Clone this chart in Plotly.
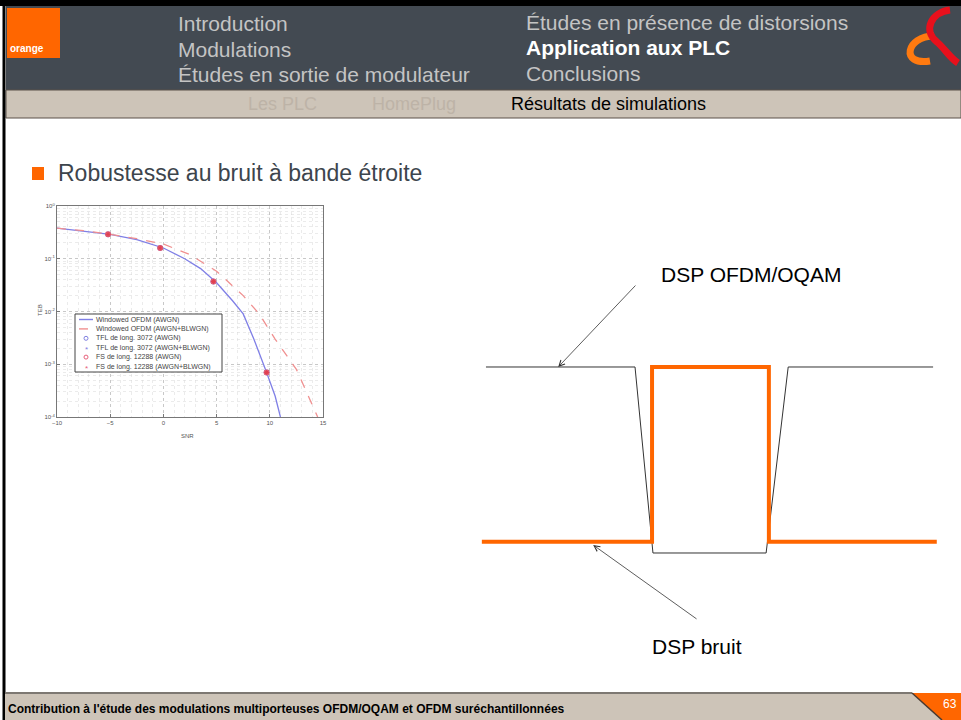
import plotly.graph_objects as go

W, H = 961, 720

# --- left figure: TEB vs SNR ---
snr_awgn = [-10, -7.5, -5, -2.5, 0, 2, 3.5, 5, 6.5, 7.5, 8.5, 9.7, 10.5, 11]
teb_awgn = [0.38, 0.33, 0.29, 0.23, 0.16, 0.1, 0.065, 0.035, 0.016, 0.009, 0.003, 0.0007, 0.00025, 0.0001]
snr_blwgn = [-10, -7.5, -5, -2.5, 0, 2.5, 5, 7.5, 9, 10.5, 12.5, 14.5]
teb_blwgn = [0.38, 0.34, 0.29, 0.24, 0.19, 0.12, 0.058, 0.02, 0.009, 0.003, 0.0008, 0.0001]
snr_marks = [-5.2, -0.3, 4.7, 9.7]
teb_marks = [0.29, 0.16, 0.037, 0.0007]
legend_names = [
    "Windowed OFDM (AWGN)",
    "Windowed OFDM (AWGN+BLWGN)",
    "TFL de long. 3072 (AWGN)",
    "TFL de long. 3072 (AWGN+BLWGN)",
    "FS de long. 12288 (AWGN)",
    "FS de long. 12288 (AWGN+BLWGN)",
]
teb_ticks = [1e-4, 1e-3, 1e-2, 1e-1, 1]
teb_ticktext = ["10<sup>-4</sup>", "10<sup>-3</sup>", "10<sup>-2</sup>", "10<sup>-1</sup>", "10<sup>0</sup>"]
snr_ticks = [-10, -5, 0, 5, 10, 15]

# --- right figure: PSD sketch (frequency in %, level 0..1) ---
sig_freq = [1.3, 33.7, 37.6, 62.2, 67.0, 98.5]
sig_level = [1, 1, 0, 0, 1, 1]
noise_freq = [0.4, 37.4, 37.4, 62.8, 62.8, 99.3]
noise_level = [0.06, 0.06, 1, 1, 0.06, 0.06]

ORANGE = "#ff6600"
BLUE = "#7f7fe6"
RED = "#e8607a"
FONT = "Arial, Liberation Sans, sans-serif"


def px(x):
    return x / W


def py(y):
    return 1 - y / H


fig = go.Figure()

# BER curves
fig.add_trace(go.Scatter(x=snr_awgn, y=teb_awgn, mode="lines", name=legend_names[0],
                         line=dict(color=BLUE, width=1.3)))
fig.add_trace(go.Scatter(x=snr_blwgn, y=teb_blwgn, mode="lines", name=legend_names[1],
                         line=dict(color="#f09090", width=1.3, dash="dash")))
fig.add_trace(go.Scatter(x=snr_marks, y=teb_marks, mode="markers", name=legend_names[2],
                         marker=dict(symbol="circle-open", color="#8080e0", size=5)))
fig.add_trace(go.Scatter(x=snr_marks, y=teb_marks, mode="markers", name=legend_names[3],
                         marker=dict(symbol="asterisk-open", color="#8080e0", size=4)))
fig.add_trace(go.Scatter(x=snr_marks, y=teb_marks, mode="markers", name=legend_names[4],
                         marker=dict(symbol="circle", color="#e0607a", size=6)))
fig.add_trace(go.Scatter(x=snr_marks, y=teb_marks, mode="markers", name=legend_names[5],
                         marker=dict(symbol="asterisk-open", color="#e04050", size=4)))

# PSD sketch
fig.add_trace(go.Scatter(x=sig_freq, y=sig_level, mode="lines", xaxis="x2", yaxis="y2",
                         line=dict(color="#333333", width=1)))
fig.add_trace(go.Scatter(x=noise_freq, y=noise_level, mode="lines", xaxis="x2", yaxis="y2",
                         line=dict(color=ORANGE, width=4)))

shapes = [
    # frame and header
    dict(type="rect", x0=0, x1=1, y0=py(6), y1=1, fillcolor="black", line_width=0),
    dict(type="rect", x0=px(6), x1=1, y0=py(90), y1=py(6), fillcolor="#434a52", line_width=0),
    dict(type="rect", x0=px(6), x1=1, y0=py(118), y1=py(90), fillcolor="#cdc4b8",
         line=dict(color="#5a5048", width=1)),
    dict(type="rect", x0=px(7), x1=px(60), y0=py(58), y1=py(8), fillcolor=ORANGE, line_width=0),
    dict(type="line", x0=px(4), x1=px(4), y0=0, y1=1, line=dict(color="black", width=3)),
    # footer
    dict(type="rect", x0=px(5), x1=1, y0=0, y1=py(693), fillcolor="#cdc4b8", line_width=0),
    dict(type="line", x0=px(5), x1=px(912), y0=py(693), y1=py(693), line=dict(color="#7d7872", width=2)),
    dict(type="path", path=f"M{px(912)},{py(693)} L1,{py(693)} L1,0 L{px(942)},0 Z",
         fillcolor=ORANGE, line_width=0),
    dict(type="line", x0=px(912), x1=px(942), y0=py(693), y1=0, line=dict(color="#4a3a30", width=1.5)),
    # bullet
    dict(type="rect", x0=px(32), x1=px(44), y0=py(180), y1=py(167), fillcolor=ORANGE, line_width=0),
    # ampersand logo
    dict(type="path",
         path=f"M{px(934)},{py(36)} C{px(906)},{py(36)} {px(900)},{py(66)} {px(930)},{py(61)}",
         line=dict(color="#ff7a10", width=7)),
    dict(type="path",
         path=f"M{px(950)},{py(10)} C{px(932)},{py(12)} {px(922)},{py(30)} {px(937)},{py(42)} "
              f"C{px(946)},{py(50)} {px(950)},{py(58)} {px(958)},{py(63)}",
         line=dict(color="#e8101c", width=7)),
    # legend box of the BER figure
    dict(type="rect", x0=px(75), x1=px(222), y0=py(372), y1=py(314), fillcolor="white",
         line=dict(color="#444444", width=1)),
]

ann = []


def text(x, y, s, size, color, bold=False, xanchor="left"):
    ann.append(dict(x=px(x), y=py(y), xref="paper", yref="paper", text=f"<b>{s}</b>" if bold else s,
                    showarrow=False, xanchor=xanchor, yanchor="middle", borderpad=0,
                    font=dict(family=FONT, size=size, color=color)))


# hand-made legend (compact, like the MATLAB one)
for i, name in enumerate(legend_names):
    yy = 319.5 + 9.4 * i
    text(95, yy, name, 7, "#444444")
    if i < 2:
        shapes.append(dict(type="line", x0=px(79), x1=px(93), y0=py(yy), y1=py(yy),
                           line=dict(color=BLUE if i == 0 else "#f09090", width=1.4,
                                     dash="solid" if i == 0 else "dash")))
    elif i in (2, 4):
        c = "#8080e0" if i == 2 else RED
        shapes.append(dict(type="circle", x0=px(84), x1=px(88), y0=py(yy + 2), y1=py(yy - 2),
                           line=dict(color=c, width=1)))
    else:
        text(86, yy + 1.5, "*", 8, "#8080e0" if i == 3 else RED, xanchor="center")

for s in shapes:
    s["xref"] = "paper"
    s["yref"] = "paper"

text(9, 49, "orange", 10, "white", bold=True)
text(177, 24, "Introduction", 21, "#c4c4c4")
text(177, 50, "Modulations", 21, "#c4c4c4")
text(177, 75, "Études en sortie de modulateur", 21, "#c4c4c4")
text(525, 22, "Études en présence de distorsions", 21, "#c4c4c4")
text(525, 48, "Application aux PLC", 21, "white", bold=True)
text(525, 74, "Conclusions", 21, "#c4c4c4")
text(247, 104, "Les PLC", 18, "#bdb3a7")
text(371, 104, "HomePlug", 18, "#bdb3a7")
text(510, 104, "Résultats de simulations", 18, "black")
text(57, 173, "Robustesse au bruit à bande étroite", 23, "#3d454d")
text(7, 709, "Contribution à l'étude des modulations multiporteuses OFDM/OQAM et OFDM suréchantillonnées",
     12, "black", bold=True)
text(950, 704, "63", 12, "white", xanchor="center")
text(751, 274, "DSP OFDM/OQAM", 21, "black", xanchor="center")
text(697, 646, "DSP bruit", 21, "black", xanchor="center")
text(187, 436, "SNR", 6, "#555555", xanchor="center")
ann.append(dict(x=px(35), y=py(310), xref="paper", yref="paper", text="TEB", showarrow=False,
                textangle=-90, font=dict(family=FONT, size=6, color="#555555")))

# arrows in sketch units
for tip, tail in [((17.0, 1.0), (34.1, 1.446)), ((24.6, 0.043), (47.4, -0.36))]:
    ann.append(dict(x=tip[0], y=tip[1], ax=tail[0], ay=tail[1], xref="x2", yref="y2",
                    axref="x2", ayref="y2", text="", showarrow=True, arrowhead=5,
                    arrowsize=1.4, arrowwidth=0.8, arrowcolor="#333333", standoff=0))

fig.update_layout(
    width=W, height=H, margin=dict(l=0, r=0, t=0, b=0, pad=0, autoexpand=False),
    paper_bgcolor="white", plot_bgcolor="white", showlegend=False,
    shapes=shapes, annotations=ann,
    xaxis=dict(domain=[px(57), px(323)], range=[-10, 15], tickvals=snr_ticks,
               showgrid=True, gridcolor="#b0b0b0", griddash="dot", gridwidth=0.6,
               minor=dict(dtick=1, showgrid=True, gridcolor="#d8d8d8", griddash="dot", gridwidth=0.5),
               showline=True, mirror=True, linecolor="#777777", linewidth=1,
               ticks="inside", ticklen=3, tickcolor="#777777", zeroline=False, automargin=False,
               tickfont=dict(family=FONT, size=6, color="#555555")),
    yaxis=dict(domain=[py(417), py(206)], type="log", range=[-4, 0],
               tickvals=teb_ticks, ticktext=teb_ticktext,
               showgrid=True, gridcolor="#b0b0b0", griddash="dot", gridwidth=0.6,
               minor=dict(dtick="D1", showgrid=True, gridcolor="#d8d8d8", griddash="dot", gridwidth=0.5),
               showline=True, mirror=True, linecolor="#777777", linewidth=1,
               ticks="inside", ticklen=3, tickcolor="#777777", automargin=False,
               tickfont=dict(family=FONT, size=6, color="#555555")),
    xaxis2=dict(domain=[px(470.8), px(949.2)], range=[-2, 102], visible=False, anchor="y2"),
    yaxis2=dict(domain=[py(590.2), py(329.8)], range=[-0.2, 1.2], visible=False, anchor="x2"),
)

pin = ("var d=document.getElementById('{plot_id}');"
       "d.style.position='fixed';d.style.left='0';d.style.top='0';"
       "document.body.style.margin='0';document.body.style.overflow='hidden';"
       "document.documentElement.style.overflow='hidden';")
fig.write_html("out.html", config={"staticPlot": True, "displayModeBar": False}, post_script=pin)
